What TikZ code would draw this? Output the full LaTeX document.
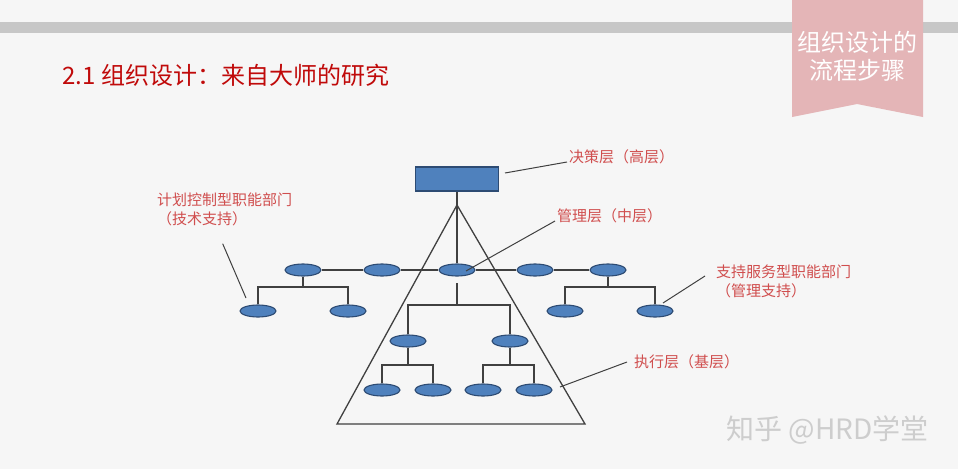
\documentclass[tikz,border=0pt]{standalone}
\usepackage{fontspec}
\setmainfont{Noto Sans CJK SC}
\usetikzlibrary{shapes.geometric}

\definecolor{bgcol}{RGB}{246,246,246}
\definecolor{barcol}{RGB}{199,199,199}
\definecolor{ribboncol}{RGB}{228,181,183}
\definecolor{titlered}{RGB}{192,10,10}
\definecolor{tagred}{RGB}{208,78,78}
\definecolor{unitblue}{RGB}{79,129,189}
\definecolor{unitline}{RGB}{45,75,115}
\definecolor{linkgray}{RGB}{64,64,64}
\definecolor{wmgray}{RGB}{205,205,205}

\begin{document}
\begin{tikzpicture}[x=1pt, y=-1pt, font=\fontsize{15}{19}\selectfont,
  unit/.style={ellipse, draw=unitline, fill=unitblue, line width=1.1pt,
    minimum width=36pt, minimum height=12pt, inner sep=0pt},
  link/.style={draw=linkgray, line width=1.3pt},
  pointer/.style={draw=linkgray, line width=1pt},
  tag/.style={text=tagred, anchor=west, inner sep=2pt, align=left}]

  % ----- page -----
  \fill[bgcol] (0,0) rectangle (958,469);
  \useasboundingbox (0,0) rectangle (958,469);
  \fill[barcol] (0,22) rectangle (958,33);
  \fill[ribboncol] (792,0) -- (923,0) -- (923,117) -- (857,104) -- (792,117) -- cycle;
  \node[text=white, align=center, font=\fontsize{24}{28}\selectfont] (badge)
    at (857,56) {组织设计的\\流程步骤};
  \node[anchor=west, text=titlered, font=\fontsize{24}{28}\selectfont] (title)
    at (59,75) {2.1 组织设计：来自大师的研究};

  % ----- pyramid -----
  \coordinate (apex) at (457,205);
  \draw[link] (apex) -- (337,424) -- (585,424) -- cycle;

  % ----- top level -----
  \node[draw=unitline, fill=unitblue, line width=1.1pt, minimum width=83pt,
    minimum height=24pt, inner sep=0pt] (top) at (457,179) {};

  % ----- middle row -----
  \foreach \x/\n in {303/r1, 382/r2, 457/r3, 535/r4, 608/r5}
    \node[unit] (\n) at (\x,270) {};
  \draw[link] (top) -- (r3);
  \draw[link] (r1) -- (r2) -- (r3) -- (r4) -- (r5);

  % left staff
  \node[unit] (c1) at (258,311) {};
  \node[unit] (c2) at (348,311) {};
  \draw[link] (r1) -- ++(0,17) coordinate (j1);
  \draw[link] (c1) |- (j1) -| (c2);

  % right staff
  \node[unit] (c3) at (565,311) {};
  \node[unit] (c4) at (655,311) {};
  \draw[link] (r5) -- ++(0,17) coordinate (j2);
  \draw[link] (c3) |- (j2) -| (c4);

  % line below centre
  \node[unit] (b1) at (408,341) {};
  \node[unit] (b2) at (510,341) {};
  \coordinate (m0) at (457,283);
  \draw[link] (m0) -- ++(0,22) coordinate (j3);
  \draw[link] (b1) |- (j3) -| (b2);

  % base
  \node[unit] (d1) at (382,390) {};
  \node[unit] (d2) at (433,390) {};
  \node[unit] (d3) at (483,390) {};
  \node[unit] (d4) at (534,390) {};
  \draw[link] (b1) -- ++(0,24) coordinate (j4);
  \draw[link] (d1) |- (j4) -| (d2);
  \draw[link] (b2) -- ++(0,24) coordinate (j5);
  \draw[link] (d3) |- (j5) -| (d4);

  % ----- labels -----
  \node[tag] (l1) at (567,157) {决策层（高层）};
  \node[tag] (l2) at (555,216) {管理层（中层）};
  \node[tag] (l3) at (155,209) {计划控制型职能部门\\（技术支持）};
  \node[tag] (l4) at (714,281) {支持服务型职能部门\\（管理支持）};
  \node[tag] (l5) at (632,362) {执行层（基层）};

  \coordinate (p1) at (505,173);
  \coordinate (p2) at (466,271);
  \coordinate (p3) at (246,298);
  \coordinate (p4) at (663,303);
  \coordinate (p5) at (560,387);
  \draw[pointer] (p1) -- ([yshift=-5pt]l1.west);
  \draw[pointer] (p2) -- ([yshift=-5pt]l2.west);
  \draw[pointer] (p3) -- ([xshift=-2pt,yshift=-16pt]l3.south);
  \draw[pointer] (p4) -- ([xshift=-9pt,yshift=5pt]l4.west);
  \draw[pointer] (p5) -- ([xshift=-5pt]l5.west);

  % ----- watermark -----
  \node[anchor=west, text=wmgray, font=\fontsize{28}{32}\selectfont] (mark)
    at (723,430) {知乎 @HRD学堂};
\end{tikzpicture}
\end{document}
